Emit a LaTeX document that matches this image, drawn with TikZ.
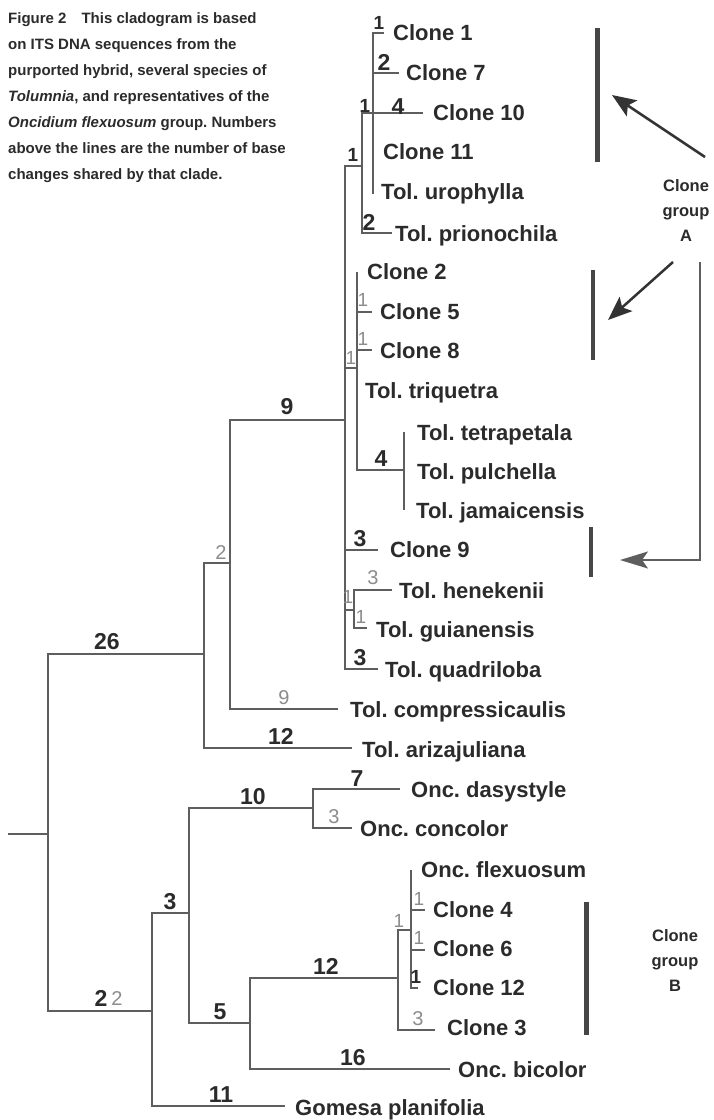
\documentclass[tikz,border=0pt]{standalone}
\usepackage{fontspec}
\setmainfont{Liberation Sans}
\usetikzlibrary{arrows.meta}
\definecolor{ink}{HTML}{2B2B2B}
\definecolor{branch}{HTML}{5E5E5E}
\definecolor{lite}{HTML}{8C8C8C}
\definecolor{bargray}{HTML}{464646}
\definecolor{arrowgray}{HTML}{333333}
\frenchspacing
\begin{document}
\begin{tikzpicture}[x=1pt,y=-1pt,
  br/.style={draw=branch, line width=1.6pt},
  leaf/.style={anchor=west, inner sep=0pt, text height=15.5pt, text depth=0pt, font=\fontsize{22}{22}\selectfont\bfseries, text=ink},
  num/.style={inner sep=0pt, text height=16pt, text depth=0pt, font=\fontsize{23}{23}\selectfont\bfseries, text=ink},
  onenum/.style={inner sep=0pt, text height=13pt, text depth=0pt, font=\fontsize{19}{19}\selectfont\bfseries, text=ink},
  gnum/.style={inner sep=0pt, text height=14pt, text depth=0pt, font=\fontsize{20}{20}\selectfont, text=lite},
  gone/.style={inner sep=0pt, text height=13pt, text depth=0pt, font=\fontsize{19}{19}\selectfont, text=lite},
  groupbar/.style={draw=bargray, line width=5pt},
  smallbar/.style={draw=bargray, line width=4.5pt},
  grouplabel/.style={align=center, inner sep=0pt, font=\fontsize{16.5}{25}\selectfont\bfseries, text=ink},
  pointer/.style={draw=arrowgray, line width=2.5pt, -{Stealth[length=24pt,width=19pt,inset=5pt]}},
  elbow/.style={draw=branch, line width=1.8pt, -{Stealth[length=28pt,width=17pt,inset=6pt]}},
]
\fill[white] (0,0) rectangle (714,1120);
\useasboundingbox (0,0) rectangle (714,1120);

% caption
\node[anchor=north west, align=left, inner sep=0pt, text=ink,
      font=\fontsize{15}{26}\selectfont\bfseries] (caption) at (8,12)
 {Figure 2\quad This cladogram is based\\
  on ITS DNA sequences from the\\
  purported hybrid, several species of\\
  \textit{Tolumnia}, and representatives of the\\
  \textit{Oncidium flexuosum} group. Numbers\\
  above the lines are the number of base\\
  changes shared by that clade.};

% ---------- tree coordinates ----------
\coordinate (root0) at (8,834);
\coordinate (n48) at (48,834);
\coordinate (n204) at (204,654);
\coordinate (n152) at (152,1011);
\coordinate (n230) at (230,563);
\coordinate (e-ariz) at (352,748);
\coordinate (n345) at (345,420);
\coordinate (e-comp) at (338,709);
\coordinate (n362) at (362,166);
\coordinate (n373) at (373,113);
\coordinate (e-c1) at (384,33);
\coordinate (e-c7) at (399,73);
\coordinate (e-c10) at (423,113);
\coordinate (e-uro) at (373,194);
\coordinate (e-prio) at (392,233);
\coordinate (n357) at (357,368);
\coordinate (e-c2) at (357,272);
\coordinate (e-c5) at (372,312);
\coordinate (e-c8) at (372,350);
\coordinate (n404) at (404,470);
\coordinate (e-tetra) at (404,432);
\coordinate (e-jam) at (404,510);
\coordinate (e-c9) at (378,550);
\coordinate (n354) at (354,610);
\coordinate (e-hen) at (392,590);
\coordinate (e-gui) at (367,628);
\coordinate (e-quad) at (378,669);
\coordinate (e-gom) at (285,1106);
\coordinate (n189) at (189,913);
\coordinate (n313) at (313,808);
\coordinate (e-das) at (400,789);
\coordinate (e-conc) at (352,828);
\coordinate (n250) at (250,1023);
\coordinate (n398) at (398,978);
\coordinate (e-bic) at (450,1069);
\coordinate (n411) at (411,930);
\coordinate (e-c3) at (435,1030);
\coordinate (e-flex) at (411,870);
\coordinate (e-c4) at (425,910);
\coordinate (e-c6) at (425,950);
\coordinate (e-c12) at (418,988);

% ---------- branches ----------
\draw[br] (root0) -- (n48);
\draw[br] (n48) |- (n204);
\draw[br] (n48) |- (n152);
\draw[br] (n204) |- (n230);
\draw[br] (n204) |- (e-ariz);
\draw[br] (n230) |- (n345);
\draw[br] (n230) |- (e-comp);
\draw[br] (n345) |- (n362);
\draw[br] (n345) |- (n357);
\draw[br] (n345) |- (e-c9);
\draw[br] (n345) |- (n354);
\draw[br] (n345) |- (e-quad);
\draw[br] (n362) |- (n373);
\draw[br] (n362) |- (e-prio);
\draw[br] (n373) |- (e-c1);
\draw[br] (n373) |- (e-c7);
\draw[br] (n373) |- (e-c10);
\draw[br] (n373) |- (e-uro);
\draw[br] (n357) |- (e-c2);
\draw[br] (n357) |- (e-c5);
\draw[br] (n357) |- (e-c8);
\draw[br] (n357) |- (n404);
\draw[br] (n404) |- (e-tetra);
\draw[br] (n404) |- (e-jam);
\draw[br] (n354) |- (e-hen);
\draw[br] (n354) |- (e-gui);
\draw[br] (n152) |- (n189);
\draw[br] (n152) |- (e-gom);
\draw[br] (n189) |- (n313);
\draw[br] (n189) |- (n250);
\draw[br] (n313) |- (e-das);
\draw[br] (n313) |- (e-conc);
\draw[br] (n250) |- (n398);
\draw[br] (n250) |- (e-bic);
\draw[br] (n398) |- (n411);
\draw[br] (n398) |- (e-c3);
\draw[br] (n411) |- (e-flex);
\draw[br] (n411) |- (e-c4);
\draw[br] (n411) |- (e-c6);
\draw[br] (n411) |- (e-c12);

% ---------- leaf labels ----------
\node[leaf] (t-c1) at (393,33) {Clone 1};
\node[leaf] (t-c7) at (406,73) {Clone 7};
\node[leaf] (t-c10) at (433,113) {Clone 10};
\node[leaf] (t-c11) at (383,152) {Clone 11};
\node[leaf] (t-uro) at (381,192) {Tol. urophylla};
\node[leaf] (t-prio) at (395,234) {Tol. prionochila};
\node[leaf] (t-c2) at (367,272) {Clone 2};
\node[leaf] (t-c5) at (380,312) {Clone 5};
\node[leaf] (t-c8) at (380,351) {Clone 8};
\node[leaf] (t-triq) at (365,391) {Tol. triquetra};
\node[leaf] (t-tetra) at (417,433) {Tol. tetrapetala};
\node[leaf] (t-pul) at (417,472) {Tol. pulchella};
\node[leaf] (t-jam) at (416,511) {Tol. jamaicensis};
\node[leaf] (t-c9) at (390,550) {Clone 9};
\node[leaf] (t-hen) at (399,591) {Tol. henekenii};
\node[leaf] (t-gui) at (376,630) {Tol. guianensis};
\node[leaf] (t-quad) at (385,670) {Tol. quadriloba};
\node[leaf] (t-comp) at (350,710) {Tol. compressicaulis};
\node[leaf] (t-ariz) at (362,750) {Tol. arizajuliana};
\node[leaf] (t-das) at (411,790) {Onc. dasystyle};
\node[leaf] (t-conc) at (360,829) {Onc. concolor};
\node[leaf] (t-flex) at (421,870) {Onc. flexuosum};
\node[leaf] (t-c4) at (433,910) {Clone 4};
\node[leaf] (t-c6) at (433,949) {Clone 6};
\node[leaf] (t-c12) at (433,988) {Clone 12};
\node[leaf] (t-c3) at (447,1028) {Clone 3};
\node[leaf] (t-bic) at (458,1070) {Onc. bicolor};
\node[leaf] (t-gom) at (295,1108) {Gomesa planifolia};

% ---------- branch numbers ----------
\node[onenum] (l-c1) at (379,23) {1};
\node[num] (l-c7) at (384,62) {2};
\node[onenum] (l-a1) at (365,106) {1};
\node[num] (l-c10) at (398,106) {4};
\node[onenum] (l-a2) at (353,155) {1};
\node[num] (l-prio) at (369,222) {2};
\node[gone] (l-c5) at (363,300) {1};
\node[gone] (l-c8) at (363,339) {1};
\node[gone] (l-b) at (351,358) {1};
\node[num] (l-tet) at (381,458) {4};
\node[num] (l-c9) at (360,538) {3};
\node[gone] (l-hg) at (348,597) {1};
\node[gnum] (l-hen) at (373,577) {3};
\node[gone] (l-gui) at (361,617) {1};
\node[num] (l-quad) at (360,657) {3};
\node[gnum] (l-comp) at (284,697) {9};
\node[num] (l-ariz) at (281,736) {12};
\node[gnum] (l-two) at (221,552) {2};
\node[num] (l-nine) at (287,406) {9};
\node[num] (l-26) at (107,641) {26};
\node[num] (l-22a) at (101,998) {2};
\node[gnum] (l-22b) at (117,998) {2};
\node[num] (l-gom) at (221,1094) {11};
\node[num] (l-three) at (170,901) {3};
\node[num] (l-ten) at (253,796) {10};
\node[num] (l-das) at (357,778) {7};
\node[gnum] (l-conc) at (334,816) {3};
\node[num] (l-five) at (220,1011) {5};
\node[num] (l-twelve) at (326,966) {12};
\node[num] (l-bic) at (353,1057) {16};
\node[gone] (l-fl) at (399,921) {1};
\node[gone] (l-c4) at (419,899) {1};
\node[gone] (l-c6) at (419,938) {1};
\node[onenum] (l-c12) at (416,977) {1};
\node[gnum] (l-c3) at (418,1018) {3};

% ---------- clone groups ----------
\coordinate (barA-t) at (597,28);
\coordinate (barA-b) at (597,162);
\coordinate (bar2-t) at (593,270);
\coordinate (bar2-b) at (593,360);
\coordinate (bar3-t) at (591,527);
\coordinate (bar3-b) at (591,577);
\coordinate (barB-t) at (586,902);
\coordinate (barB-b) at (586,1035);
\draw[groupbar] (barA-t) -- (barA-b);
\draw[smallbar] (bar2-t) -- (bar2-b);
\draw[smallbar] (bar3-t) -- (bar3-b);
\draw[groupbar] (barB-t) -- (barB-b);

\node[grouplabel] (grpA) at (686,211) {Clone\\group\\A};
\node[grouplabel] (grpB) at (675,961) {Clone\\group\\B};

% ---------- arrows ----------
\coordinate (a1-s) at (705,157);
\coordinate (a1-e) at (612,95);
\coordinate (a2-s) at (673,262);
\coordinate (a2-e) at (608,320);
\coordinate (a3-s) at (700,262);
\coordinate (a3-e) at (620,560);
\draw[pointer] (a1-s) -- (a1-e);
\draw[pointer] (a2-s) -- (a2-e);
\draw[elbow] (a3-s) |- (a3-e);
\end{tikzpicture}
\end{document}
